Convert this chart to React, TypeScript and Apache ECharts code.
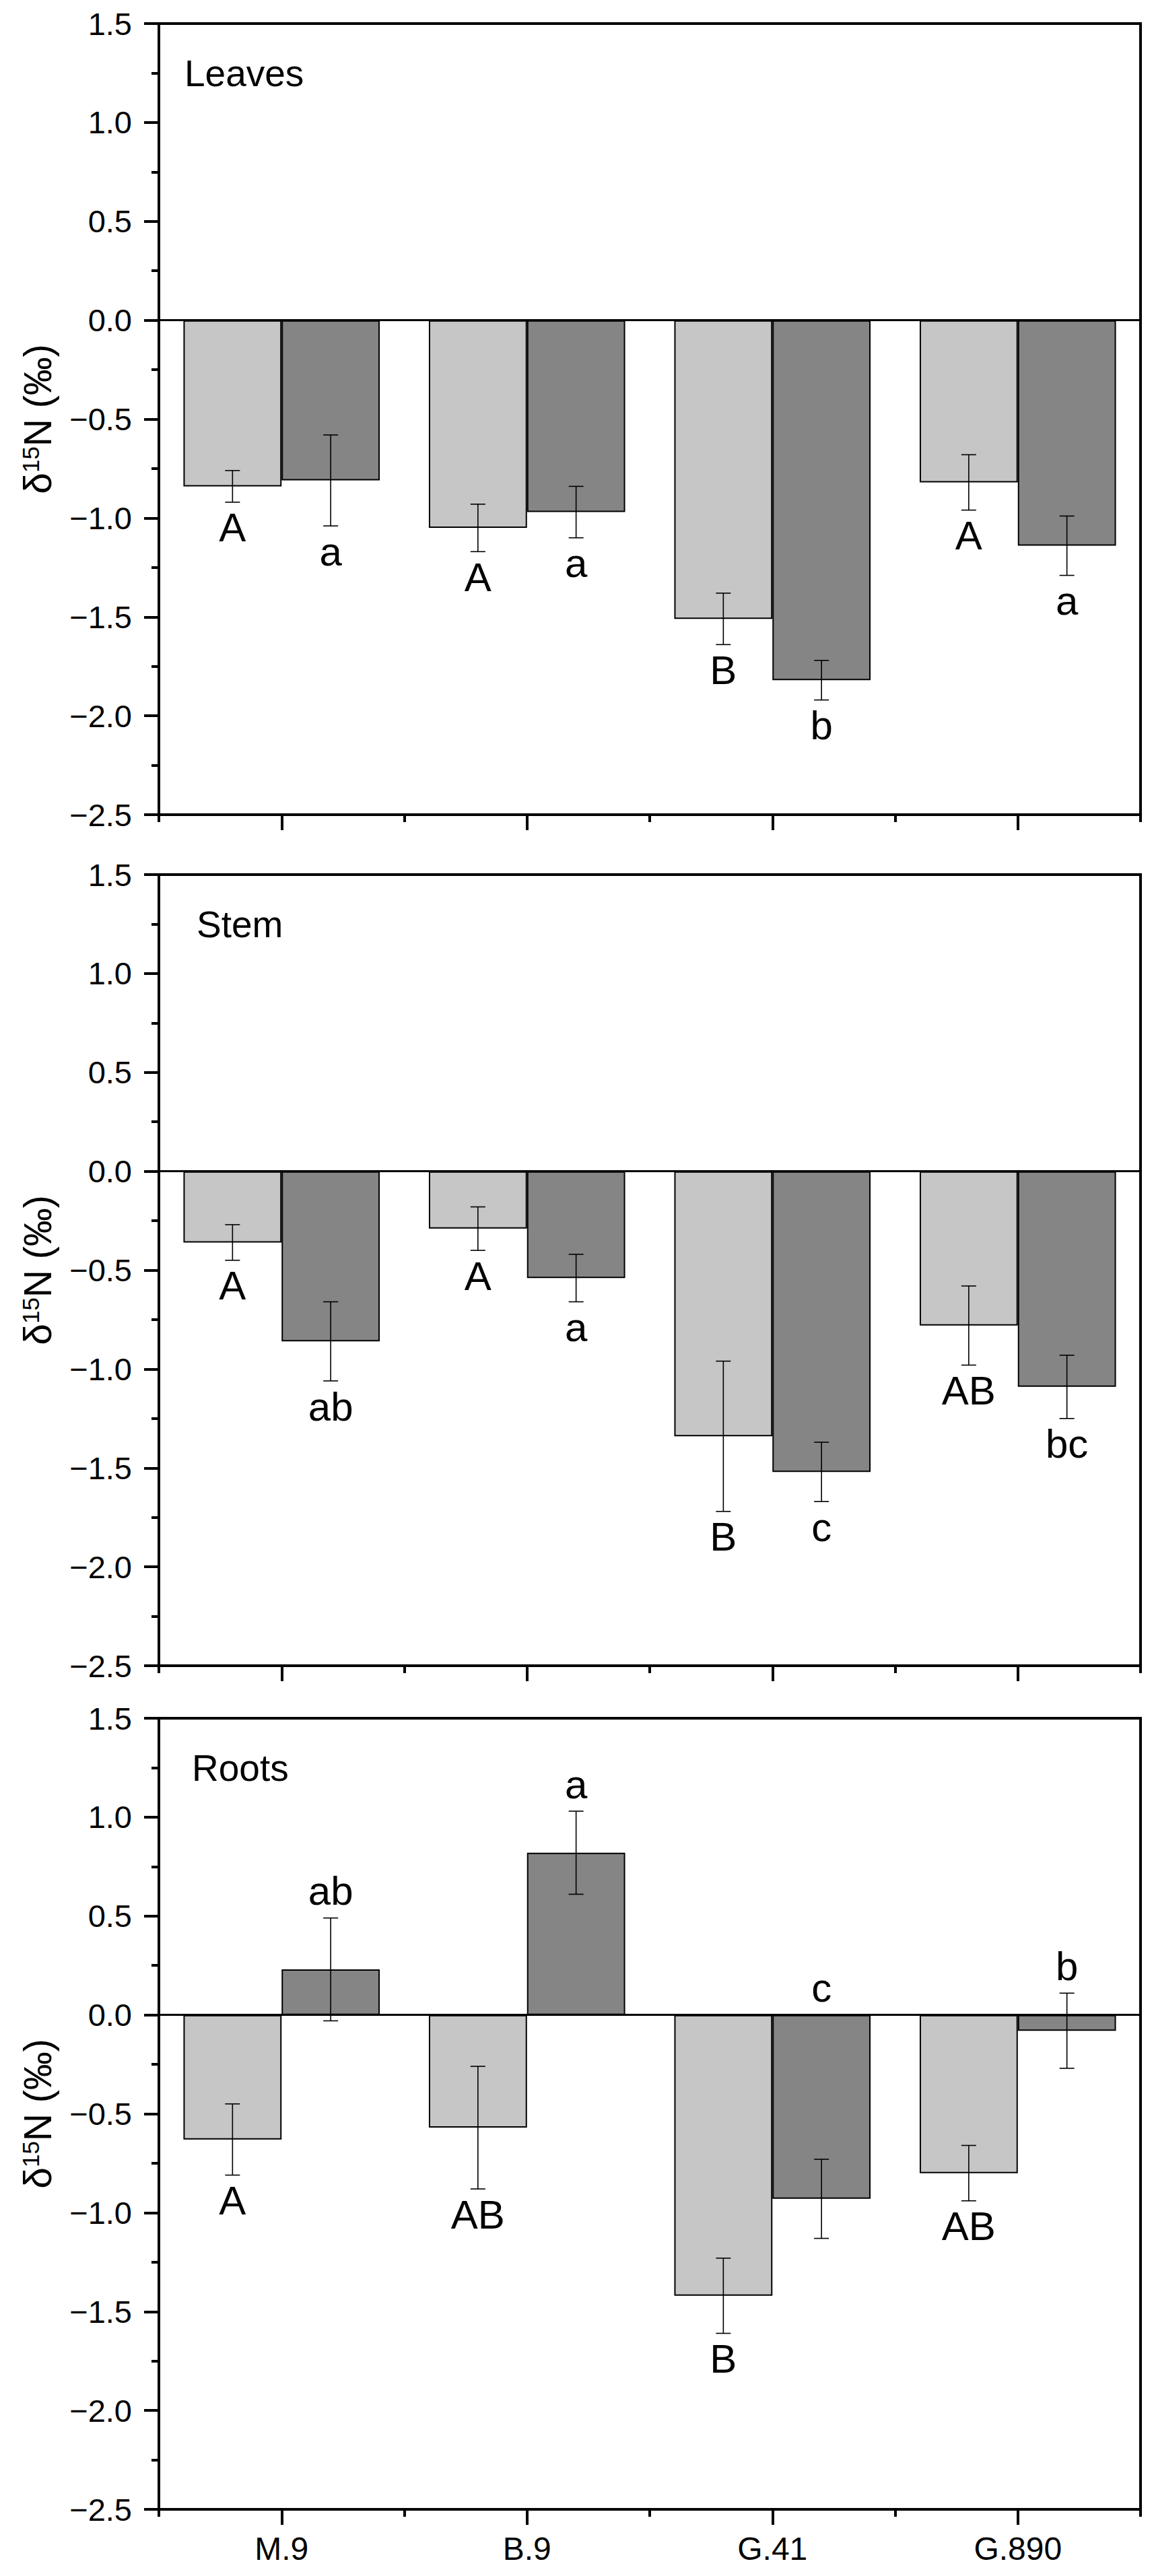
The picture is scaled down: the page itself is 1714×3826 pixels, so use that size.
import React, { useEffect, useRef } from "react";
import * as echarts from "echarts";

// ---------- data ----------
const categories = ["M.9", "B.9", "G.41", "G.890"];
const panelNames = ["Leaves", "Stem", "Roots"];

const leavesLight = [-0.84, -1.05, -1.51, -0.82];
const leavesLightErr = [0.08, 0.12, 0.13, 0.14];
const leavesLightLetters = ["A", "A", "B", "A"];
const leavesDark = [-0.81, -0.97, -1.82, -1.14];
const leavesDarkErr = [0.23, 0.13, 0.1, 0.15];
const leavesDarkLetters = ["a", "a", "b", "a"];

const stemLight = [-0.36, -0.29, -1.34, -0.78];
const stemLightErr = [0.09, 0.11, 0.38, 0.2];
const stemLightLetters = ["A", "A", "B", "AB"];
const stemDark = [-0.86, -0.54, -1.52, -1.09];
const stemDarkErr = [0.2, 0.12, 0.15, 0.16];
const stemDarkLetters = ["ab", "a", "c", "bc"];

const rootsLight = [-0.63, -0.57, -1.42, -0.8];
const rootsLightErr = [0.18, 0.31, 0.19, 0.14];
const rootsLightLetters = ["A", "AB", "B", "AB"];
const rootsDark = [0.23, 0.82, -0.93, -0.08];
const rootsDarkErr = [0.26, 0.21, 0.2, 0.19];
const rootsDarkLetters = ["ab", "a", "c", "b"];

// letter placement relative to the bar: "below" or "above"
const lightPlacement = ["below", "below", "below"];
const darkPlacement = ["below", "below", "above"];

const yTicks = [-2.5, -2.0, -1.5, -1.0, -0.5, 0.0, 0.5, 1.0, 1.5];

const yTitleParts = ["\u03b4", "15", "N (\u2030)"];

const panels = [
  { light: leavesLight, lightErr: leavesLightErr, lightLetters: leavesLightLetters, dark: leavesDark, darkErr: leavesDarkErr, darkLetters: leavesDarkLetters },
  { light: stemLight, lightErr: stemLightErr, lightLetters: stemLightLetters, dark: stemDark, darkErr: stemDarkErr, darkLetters: stemDarkLetters },
  { light: rootsLight, lightErr: rootsLightErr, lightLetters: rootsLightLetters, dark: rootsDark, darkErr: rootsDarkErr, darkLetters: rootsDarkLetters },
];

// ---------- layout / style ----------
const W = 1714;
const H = 3826;
const GRID_LEFT = 236;
const GRID_WIDTH = 1458;
const GRID_HEIGHT = 1175;
const GRID_TOPS = [35, 1299, 2552];
const TITLE_X = [274, 292, 285];
const FONT = "'Liberation Sans', Arial, Helvetica, sans-serif";
const LIGHT = "#c6c6c6";
const DARK = "#858585";
const YT_FONT = 57;
const YT_SUP = 35;

function fmt(v: number) {
  return v.toFixed(1).replace("-", "\u2212");
}

function measure(text: string, size: number) {
  const c = document.createElement("canvas");
  const ctx = c.getContext("2d");
  if (!ctx) return text.length * size * 0.55;
  ctx.font = `${size}px ${FONT}`;
  return ctx.measureText(text).width;
}

function makeErrorRender(letters: string[], placement: string, isDark: boolean) {
  return function (params: any, api: any) {
    const ci = api.value(0);
    const v = api.value(1);
    const e = api.value(2);
    const band = api.size([1, 0])[0];
    const cx = api.coord([ci, 0])[0] + (isDark ? 0.2 : -0.2) * band;
    const yHi = api.coord([ci, v + e])[1];
    const yLo = api.coord([ci, v - e])[1];
    const cap = 11;
    const ls = { stroke: "#000", lineWidth: 1.6 };
    const children: any[] = [
      { type: "line", shape: { x1: cx, y1: yHi, x2: cx, y2: yLo }, style: ls },
      { type: "line", shape: { x1: cx - cap, y1: yHi, x2: cx + cap, y2: yHi }, style: ls },
      { type: "line", shape: { x1: cx - cap, y1: yLo, x2: cx + cap, y2: yLo }, style: ls },
    ];
    const text = letters[params.dataIndex];
    if (placement === "above") {
      const anchor = api.coord([ci, Math.max(0, v + e)])[1];
      children.push({
        type: "text",
        x: cx,
        y: anchor - 10,
        style: { text, fontSize: 60, fontFamily: FONT, fill: "#000", align: "center", verticalAlign: "bottom" },
      });
    } else {
      const anchor = api.coord([ci, Math.min(0, v - e)])[1];
      children.push({
        type: "text",
        x: cx,
        y: anchor + 8,
        style: { text, fontSize: 60, fontFamily: FONT, fill: "#000", align: "center", verticalAlign: "top" },
      });
    }
    return { type: "group", children };
  };
}

function yTitleGroup(cx: number, cy: number) {
  const w0 = measure(yTitleParts[0], YT_FONT);
  const w1 = measure(yTitleParts[1], YT_SUP);
  const w2 = measure(yTitleParts[2], YT_FONT);
  const total = w0 + w1 + w2;
  const x0 = -total / 2;
  return {
    type: "group",
    x: cx,
    y: cy,
    rotation: Math.PI / 2,
    children: [
      { type: "text", x: x0, y: 0, style: { text: yTitleParts[0], fontSize: YT_FONT, fontFamily: FONT, fill: "#000", align: "left", verticalAlign: "middle" } },
      { type: "text", x: x0 + w0, y: -11, style: { text: yTitleParts[1], fontSize: YT_SUP, fontFamily: FONT, fill: "#000", align: "left", verticalAlign: "middle" } },
      { type: "text", x: x0 + w0 + w1, y: 0, style: { text: yTitleParts[2], fontSize: YT_FONT, fontFamily: FONT, fill: "#000", align: "left", verticalAlign: "middle" } },
    ],
  };
}

function buildOption() {
  const grid: any[] = [];
  const xAxis: any[] = [];
  const yAxis: any[] = [];
  const series: any[] = [];
  const graphic: any[] = [];

  panels.forEach((p, i) => {
    grid.push({
      left: GRID_LEFT,
      top: GRID_TOPS[i],
      width: GRID_WIDTH,
      height: GRID_HEIGHT,
      show: true,
      borderColor: "#000",
      borderWidth: 4,
      backgroundColor: "transparent",
      containLabel: false,
    });
    xAxis.push({
      type: "category",
      gridIndex: i,
      data: categories,
      position: "bottom",
      axisLine: { show: true, onZero: false, lineStyle: { color: "#000", width: 4 } },
      axisTick: { show: true, alignWithLabel: true, length: 23, lineStyle: { color: "#000", width: 4 } },
      axisLabel: { show: i === 2, fontSize: 48, color: "#000", fontFamily: FONT, margin: 34 },
      splitLine: { show: false },
    });
    xAxis.push({
      type: "category",
      gridIndex: i,
      data: categories,
      position: "bottom",
      axisLine: { show: false, onZero: false },
      axisTick: { show: true, alignWithLabel: false, length: 11, lineStyle: { color: "#000", width: 4 } },
      axisLabel: { show: false },
      splitLine: { show: false },
    });
    yAxis.push({
      type: "value",
      gridIndex: i,
      min: yTicks[0],
      max: yTicks[yTicks.length - 1],
      interval: 0.5,
      axisLine: { show: true, onZero: false, lineStyle: { color: "#000", width: 4 } },
      axisTick: { show: true, length: 22, lineStyle: { color: "#000", width: 4 } },
      minorTick: { show: true, splitNumber: 2, length: 11, lineStyle: { color: "#000", width: 4 } },
      axisLabel: { fontSize: 47, color: "#000", fontFamily: FONT, margin: 40, formatter: (v: number) => fmt(v) },
      splitLine: { show: false },
      minorSplitLine: { show: false },
    });

    const xi = i * 2;
    series.push({
      type: "bar",
      xAxisIndex: xi,
      yAxisIndex: i,
      data: p.light,
      barGap: "0%",
      barCategoryGap: "20%",
      itemStyle: { color: LIGHT, borderColor: "#000", borderWidth: 2 },
      z: 2,
      markLine: {
        silent: true,
        symbol: ["none", "none"],
        label: { show: false },
        lineStyle: { color: "#000", width: 3, type: "solid" },
        data: [{ yAxis: 0 }],
        z: 5,
      },
    });
    series.push({
      type: "bar",
      xAxisIndex: xi,
      yAxisIndex: i,
      data: p.dark,
      barGap: "0%",
      barCategoryGap: "20%",
      itemStyle: { color: DARK, borderColor: "#000", borderWidth: 2 },
      z: 2,
    });
    series.push({
      type: "custom",
      xAxisIndex: xi,
      yAxisIndex: i,
      data: p.light.map((v, k) => [k, v, p.lightErr[k]]),
      encode: { x: 0, y: 1 },
      renderItem: makeErrorRender(p.lightLetters, lightPlacement[i], false),
      z: 6,
      clip: false,
    });
    series.push({
      type: "custom",
      xAxisIndex: xi,
      yAxisIndex: i,
      data: p.dark.map((v, k) => [k, v, p.darkErr[k]]),
      encode: { x: 0, y: 1 },
      renderItem: makeErrorRender(p.darkLetters, darkPlacement[i], true),
      z: 6,
      clip: false,
    });

    graphic.push({
      type: "text",
      left: TITLE_X[i],
      top: GRID_TOPS[i] + 46,
      style: { text: panelNames[i], fontSize: 55, fontFamily: FONT, fill: "#000" },
    });
    graphic.push(yTitleGroup(56, GRID_TOPS[i] + GRID_HEIGHT / 2));
  });

  return {
    animation: false,
    backgroundColor: "#ffffff",
    grid,
    xAxis,
    yAxis,
    series,
    graphic,
  };
}

export default function App() {
  const ref = useRef<HTMLDivElement>(null);
  useEffect(() => {
    document.body.style.margin = "0";
    if (!ref.current) return;
    const chart = echarts.init(ref.current, undefined, { renderer: "svg", width: W, height: H });
    chart.setOption(buildOption() as any);
    return () => chart.dispose();
  }, []);
  return <div ref={ref} style={{ width: W, height: H, background: "#fff" }} />;
}
